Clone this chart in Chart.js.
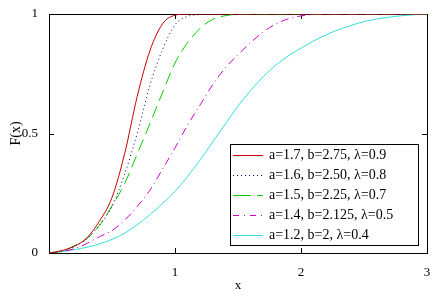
<!DOCTYPE html>
<html>
<head>
<meta charset="utf-8">
<script src="https://cdn.jsdelivr.net/npm/chart.js@4/dist/chart.umd.min.js"></script>
<style>
  html, body { margin: 0; padding: 0; background: #fff; }
  #wrap { width: 442px; height: 300px; position: relative; }
</style>
</head>
<body>
<div id="wrap"><canvas id="cdfChart"></canvas></div>
<script>
// x grid of the sampled curves
const xValues = [0, 0.1, 0.2, 0.3, 0.4, 0.5, 0.6, 0.7, 0.8, 0.9, 1.0,
                 1.1, 1.2, 1.3, 1.4, 1.5, 1.6, 1.7, 1.8, 1.9, 2.0,
                 2.1, 2.2, 2.3, 2.4, 2.5, 2.6, 2.7, 2.8, 2.9, 3.0];

// F(x), one list per curve
const redF = [0, 0.01, 0.028, 0.063, 0.133, 0.232, 0.415, 0.655, 0.845, 0.958, 0.995,
              1, 1, 1, 1, 1, 1, 1, 1, 1, 1,
              1, 1, 1, 1, 1, 1, 1, 1, 1, 1];
const blueF = [0, 0.008, 0.026, 0.06, 0.117, 0.195, 0.33, 0.5, 0.7, 0.85, 0.955,
               0.99, 0.998, 1, 1, 1, 1, 1, 1, 1, 1,
               1, 1, 1, 1, 1, 1, 1, 1, 1, 1];
const greenF = [0, 0.008, 0.03, 0.06, 0.115, 0.197, 0.29, 0.414, 0.54, 0.67, 0.795,
                0.88, 0.94, 0.978, 0.993, 0.999, 1, 1, 1, 1, 1,
                1, 1, 1, 1, 1, 1, 1, 1, 1, 1];
const magentaF = [0, 0.005, 0.018, 0.04, 0.068, 0.094, 0.137, 0.195, 0.262, 0.35, 0.44,
                  0.535, 0.62, 0.705, 0.775, 0.83, 0.88, 0.925, 0.958, 0.98, 0.992,
                  0.998, 1, 1, 1, 1, 1, 1, 1, 1, 1];
const cyanF = [0, 0.006, 0.014, 0.024, 0.038, 0.057, 0.083, 0.118, 0.16, 0.206, 0.258,
               0.32, 0.39, 0.465, 0.54, 0.615, 0.68, 0.737, 0.786, 0.825, 0.857,
               0.887, 0.913, 0.935, 0.953, 0.968, 0.979, 0.987, 0.993, 0.997, 1];

const seriesLabels = [
    'a=1.7, b=2.75, \u03bb=0.9',
    'a=1.6, b=2.50, \u03bb=0.8',
    'a=1.5, b=2.25, \u03bb=0.7',
    'a=1.4, b=2.125, \u03bb=0.5',
    'a=1.2, b=2, \u03bb=0.4'
];

const xTickValues = [1, 2, 3];
const yTickValues = [0, 0.5, 1];

const serif = "'Liberation Serif', 'DejaVu Serif', serif";

function toPoints(ys) {
    return xValues.map((x, i) => ({ x: x, y: ys[i] }));
}

// box frame with inward tick marks (Mathcad style)
const framePlugin = {
    id: 'frame',
    beforeDatasetsDraw(chart) {
        const { ctx, chartArea: a, scales } = chart;
        ctx.save();
        ctx.strokeStyle = '#000';
        ctx.lineWidth = 1;
        ctx.strokeRect(Math.round(a.left) + 0.5, Math.round(a.top) + 0.5,
                       Math.round(a.right - a.left), Math.round(a.bottom - a.top));
        ctx.beginPath();
        xTickValues.forEach(v => {
            const px = Math.round(scales.x.getPixelForValue(v)) + 0.5;
            ctx.moveTo(px, a.bottom); ctx.lineTo(px, a.bottom - 5);
            ctx.moveTo(px, a.top); ctx.lineTo(px, a.top + 5);
        });
        yTickValues.forEach(v => {
            const py = Math.round(scales.y.getPixelForValue(v)) + 0.5;
            ctx.moveTo(a.left, py); ctx.lineTo(a.left + 5, py);
            ctx.moveTo(a.right, py); ctx.lineTo(a.right - 5, py);
        });
        ctx.stroke();
        ctx.restore();
    },
    afterDraw(chart) {
        // legend box inside the plot, lower right
        const { ctx } = chart;
        const sets = chart.data.datasets;
        const boxL = 230.5, boxT = 144.5, boxW = 188, boxH = 101;
        ctx.save();
        ctx.fillStyle = '#fff';
        ctx.fillRect(boxL, boxT, boxW, boxH);
        ctx.strokeStyle = '#000';
        ctx.lineWidth = 1;
        ctx.setLineDash([]);
        ctx.strokeRect(boxL, boxT, boxW, boxH);
        ctx.font = '14px ' + serif;
        ctx.textBaseline = 'middle';
        sets.forEach((ds, i) => {
            const y = Math.round(boxT + 10 + i * 20) + 0.5;
            ctx.strokeStyle = ds.borderColor;
            ctx.lineWidth = 1;
            ctx.setLineDash(legendDashes[i]);
            ctx.beginPath();
            ctx.moveTo(233, y);
            ctx.lineTo(263, y);
            ctx.stroke();
            ctx.setLineDash([]);
            ctx.fillStyle = '#000';
            ctx.fillText(ds.label, 269, y);
        });
        ctx.restore();
    }
};

const colors = ['#c80000', '#000080', '#00cc00', '#cc00cc', '#33dddd'];
const dashes = [[], [1, 3], [12, 6], [8, 4, 1, 4], []];
const legendDashes = [[], [1, 3], [18, 6], [6, 5, 1, 5], []];
const curves = [redF, blueF, greenF, magentaF, cyanF];

Chart.defaults.color = '#000';

new Chart(document.getElementById('cdfChart'), {
    type: 'line',
    data: {
        datasets: curves.map((ys, i) => ({
            label: seriesLabels[i],
            data: toPoints(ys),
            borderColor: colors[i],
            borderDash: dashes[i],
            borderWidth: 1,
            pointRadius: 0,
            fill: false,
            cubicInterpolationMode: 'monotone'
        }))
    },
    options: {
        responsive: true,
        maintainAspectRatio: false,
        animation: false,
        layout: { padding: { left: 0, right: 15, top: 14, bottom: 0 } },
        plugins: {
            legend: { display: false },
            tooltip: { enabled: false }
        },
        scales: {
            x: {
                type: 'linear',
                min: 0,
                max: 3,
                grid: { display: false },
                border: { display: false },
                afterBuildTicks: s => { s.ticks = xTickValues.map(v => ({ value: v })); },
                afterFit: s => { s.height = 47; },
                ticks: {
                    padding: 4,
                    maxRotation: 0,
                    autoSkip: false,
                    font: { family: serif, size: 13 },
                    callback: v => String(v)
                },
                title: {
                    display: true,
                    text: 'x',
                    font: { family: serif, size: 13 },
                    padding: { top: 0, bottom: 7 }
                }
            },
            y: {
                type: 'linear',
                min: 0,
                max: 1,
                grid: { display: false },
                border: { display: false },
                afterBuildTicks: s => { s.ticks = yTickValues.map(v => ({ value: v })); },
                afterFit: s => { s.width = 49; },
                ticks: {
                    padding: 3,
                    autoSkip: false,
                    font: { family: serif, size: 13 },
                    callback: v => String(v)
                },
                title: {
                    display: true,
                    text: 'F(x)',
                    font: { family: serif, size: 14 },
                    padding: { top: 8, bottom: 0 }
                }
            }
        }
    },
    plugins: [framePlugin]
});
</script>
</body>
</html>
